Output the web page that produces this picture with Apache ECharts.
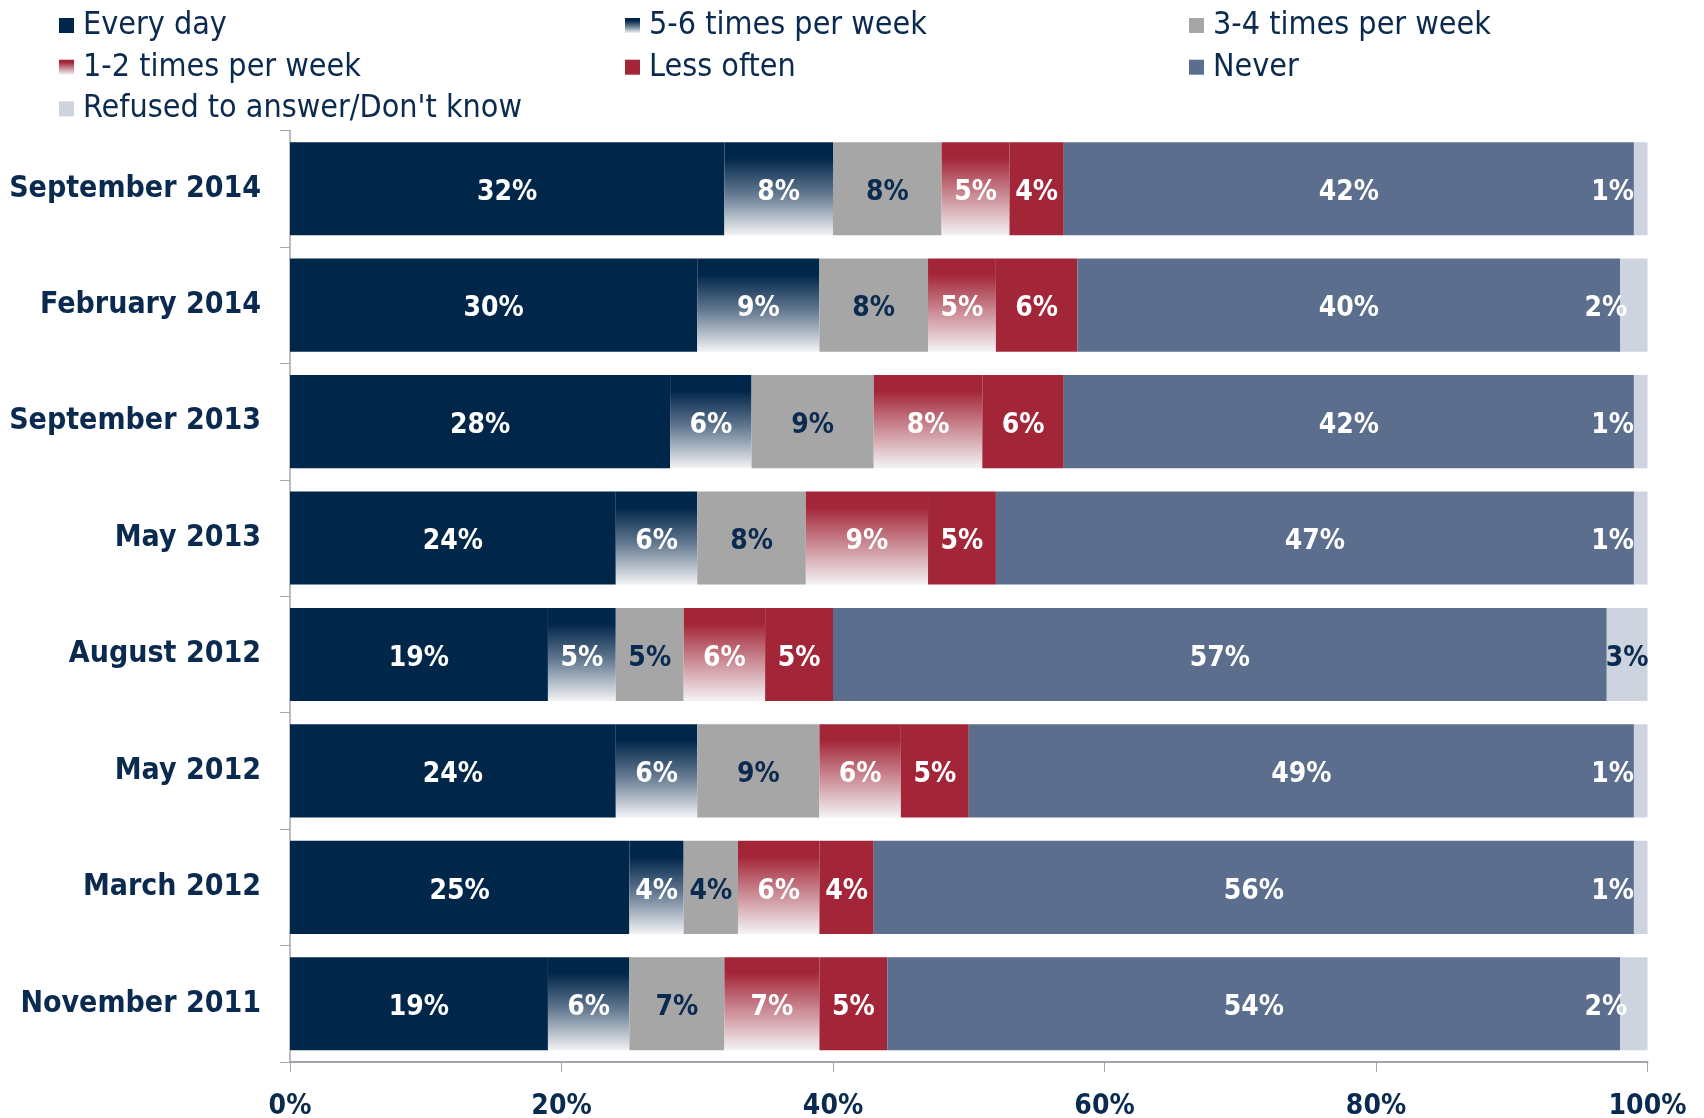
<!DOCTYPE html>
<html>
<head>
<meta charset="utf-8">
<title>Frequency</title>
<script src="https://cdn.jsdelivr.net/npm/echarts@6.0.0/dist/echarts.min.js"></script>
<style>
  html, body { margin: 0; padding: 0; background: #fff; }
  #chart { width: 1704px; height: 1118px; }
</style>
</head>
<body>
<div id="chart"></div>
<script>
// categories, top to bottom
var waves = ['September 2014', 'February 2014', 'September 2013', 'May 2013',
  'August 2012', 'May 2012', 'March 2012', 'November 2011']

// series values (%)
var everyDay   = [32, 30, 28, 24, 19, 24, 25, 19]
var fiveSix    = [8, 9, 6, 6, 5, 6, 4, 6]
var threeFour  = [8, 8, 9, 8, 5, 9, 4, 7]
var oneTwo     = [5, 5, 8, 9, 6, 6, 6, 7]
var lessOften  = [4, 6, 6, 5, 5, 5, 4, 5]
var never      = [42, 40, 42, 47, 57, 49, 56, 54]
var refused    = [1, 2, 1, 1, 3, 1, 1, 2]

var xTicks = [0, 20, 40, 60, 80, 100]

var names = ['Every day', '5-6 times per week', '3-4 times per week',
  '1-2 times per week', 'Less often', 'Never', 'Refused to answer/Don\'t know']

var navy = '#00264a'
var textNavy = '#0a2a4f'
var red = '#a32638'
var FONT = '"DejaVu Sans Condensed", "DejaVu Sans", sans-serif'

// fade from the solid colour at the top to near white at the bottom
function fade(top, mid) {
  return new echarts.graphic.LinearGradient(0, 0, 0, 1, [
    { offset: 0, color: top },
    { offset: 0.17, color: top },
    { offset: 0.55, color: mid },
    { offset: 1, color: '#f3f3f5' }
  ])
}

var barLabel = function (color) {
  return {
    show: true,
    position: 'inside',
    offset: [0, 4],
    color: color,
    fontFamily: FONT,
    fontWeight: 'bold',
    fontSize: 28,
    formatter: '{c}%'
  }
}

function makeSeries(name, values, color, labelColor) {
  return {
    name: name,
    type: 'bar',
    stack: 'total',
    barCategoryGap: '20%',
    itemStyle: { color: color },
    label: barLabel(labelColor),
    data: values
  }
}

var series = [
  makeSeries(names[0], everyDay, navy, '#fff'),
  makeSeries(names[1], fiveSix, fade(navy, '#61778f'), '#fff'),
  makeSeries(names[2], threeFour, '#a6a6a6', textNavy),
  makeSeries(names[3], oneTwo, fade(red, '#c98690'), '#fff'),
  makeSeries(names[4], lessOften, red, '#fff'),
  makeSeries(names[5], never, '#5b6e8d', '#fff'),
  makeSeries(names[6], refused.map(function (v) {
    // narrow slices: label sits over the Never bar in white
    if (v < 3) {
      return { value: v, label: { color: '#fff', offset: [-28, 4] } }
    }
    return { value: v }
  }), '#cdd4df', textNavy)
]

function legendCol(left, items) {
  return {
    orient: 'vertical',
    left: left,
    top: 9.5,
    padding: 0,
    itemWidth: 15,
    itemHeight: 15,
    itemGap: 9.7,
    icon: 'rect',
    selectedMode: false,
    textStyle: {
      color: textNavy,
      fontFamily: FONT,
      fontSize: 32,
      lineHeight: 32,
      padding: [0, 0, 0, 4]
    },
    data: items
  }
}

var option = {
  animation: false,
  legend: [
    legendCol(59, [names[0], names[3], names[6]]),
    legendCol(625, [names[1], names[4]]),
    legendCol(1189, [names[2], names[5]])
  ],
  grid: {
    left: 290,
    right: 56.5,
    top: 130.5,
    bottom: 56,
    containLabel: false,
    outerBoundsMode: 'none'
  },
  xAxis: {
    type: 'value',
    min: xTicks[0],
    max: xTicks[xTicks.length - 1],
    interval: 20,
    axisLine: { show: true, lineStyle: { color: '#a4a4ac', width: 2 } },
    axisTick: { show: true, length: 10, lineStyle: { color: '#a4a4ac' } },
    splitLine: { show: false },
    axisLabel: {
      color: textNavy,
      fontFamily: FONT,
      fontWeight: 'bold',
      fontSize: 28,
      margin: 31,
      formatter: '{value}%'
    }
  },
  yAxis: {
    type: 'category',
    inverse: true,
    data: waves,
    axisLine: { show: true, lineStyle: { color: '#a4a4ac', width: 1.5 } },
    axisTick: { show: true, length: 10, lineStyle: { color: '#a4a4ac' } },
    axisLabel: {
      color: textNavy,
      fontFamily: FONT,
      fontWeight: 'bold',
      fontSize: 30,
      margin: 29,
      padding: [7, 0, 0, 0]
    }
  },
  series: series
}

var myChart = echarts.init(document.getElementById('chart'))
myChart.setOption(option)
</script>
</body>
</html>
